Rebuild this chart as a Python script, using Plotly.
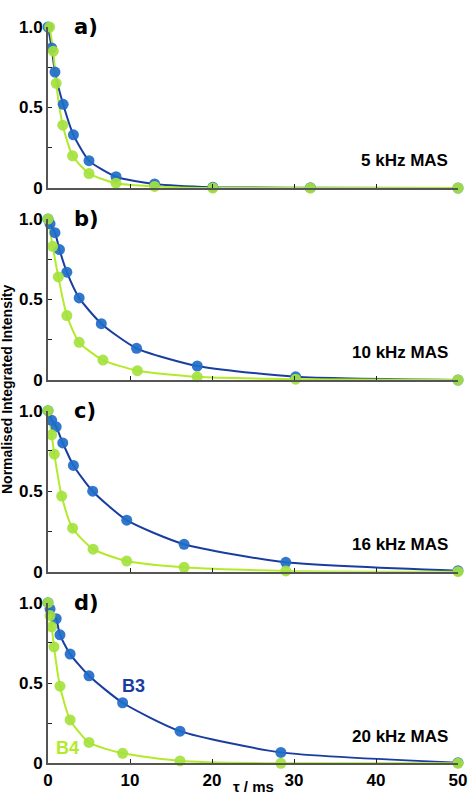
import plotly.graph_objects as go

# ---- data ----
panel_labels = ["a)", "b)", "c)", "d)"]
mas_labels = ["5 kHz MAS", "10 kHz MAS", "16 kHz MAS", "20 kHz MAS"]

tau_a = [0, 0.45, 0.85, 1.85, 3.1, 5.0, 8.3, 13.0, 20.1, 32.0, 50.0]
b3_a = [1.0, 0.87, 0.72, 0.52, 0.33, 0.17, 0.07, 0.025, 0.005, 0.002, 0.0]
tau_a_g = [0.2, 0.65, 1.0, 1.8, 3.0, 5.0, 8.3, 13.0, 20.1, 32.0, 50.0]
b4_a = [1.0, 0.85, 0.65, 0.39, 0.20, 0.09, 0.03, 0.01, 0.0, 0.0, 0.0]

tau_b = [0.0, 0.25, 0.85, 1.4, 2.3, 3.8, 6.5, 10.8, 18.2, 30.2, 50.0]
b3_b = [1.0, 0.97, 0.915, 0.81, 0.67, 0.51, 0.35, 0.197, 0.087, 0.02, 0.0]
tau_b_g = [0.0, 0.57, 1.26, 2.3, 3.8, 6.7, 10.9, 18.2, 30.2, 50.0]
b4_b = [1.0, 0.83, 0.64, 0.40, 0.234, 0.124, 0.058, 0.02, 0.005, 0.0]

tau_c = [0.0, 0.45, 1.0, 1.8, 3.1, 5.45, 9.6, 16.6, 29.0, 50.0]
b3_c = [1.0, 0.94, 0.90, 0.80, 0.66, 0.50, 0.32, 0.17, 0.058, 0.006]
tau_c_g = [0.0, 0.45, 0.77, 1.67, 3.0, 5.5, 9.6, 16.6, 29.0, 50.0]
b4_c = [1.0, 0.85, 0.73, 0.47, 0.27, 0.14, 0.066, 0.027, 0.005, 0.0]

tau_d = [0.0, 0.25, 1.0, 1.46, 2.7, 5.0, 9.1, 16.1, 28.4, 50.0]
b3_d = [1.0, 0.96, 0.90, 0.80, 0.68, 0.545, 0.377, 0.20, 0.068, 0.004]
tau_d_g = [0.0, 0.25, 0.45, 0.73, 1.46, 2.7, 5.0, 9.1, 16.1, 28.4, 50.0]
b4_d = [1.0, 0.92, 0.85, 0.725, 0.48, 0.27, 0.13, 0.062, 0.015, 0.0, 0.0]

x_ticks = [0, 10, 20, 30, 40, 50]
y_ticks = [0, 0.5, 1.0]
y_ticklabels = ["0", "0.5", "1.0"]

panels = [
    (tau_a, b3_a, tau_a_g, b4_a),
    (tau_b, b3_b, tau_b_g, b4_b),
    (tau_c, b3_c, tau_c_g, b4_c),
    (tau_d, b3_d, tau_d_g, b4_d),
]

# ---- styles ----
W, H = 470, 798
BLUE_M = "#1f6cc9"
BLUE_L = "#1a3da0"
GREEN_M = "#a4e23e"
GREEN_L = "#b3ea2a"
AXIS_C = "#555555"
FONT = "Liberation Sans"

# pixel rows of y=1 and y=0 for each panel
rows = [(27, 188), (219, 380), (410.7, 571.7), (602.7, 763.3)]

fig = go.Figure()
for i, (xb, yb, xg, yg) in enumerate(panels):
    xa = "x" if i == 0 else f"x{i+1}"
    ya = "y" if i == 0 else f"y{i+1}"
    for xs, ys, lc in ((xb, yb, BLUE_L), (xg, yg, GREEN_L)):
        fig.add_trace(go.Scatter(
            x=xs, y=ys, mode="lines", xaxis=xa, yaxis=ya,
            line=dict(color=lc, width=2, shape="spline", smoothing=0.6),
            showlegend=False, hoverinfo="skip", cliponaxis=False))
    for xs, ys, mc in ((xb, yb, BLUE_M), (xg, yg, GREEN_M)):
        fig.add_trace(go.Scatter(
            x=xs, y=ys, mode="markers", xaxis=xa, yaxis=ya,
            marker=dict(color=mc, size=11, opacity=0.92, line=dict(width=0)),
            showlegend=False, cliponaxis=False))

layout = dict(
    width=W, height=H,
    margin=dict(l=48, r=12, t=0, b=0, autoexpand=False),
    paper_bgcolor="white", plot_bgcolor="white",
    font=dict(family=FONT, color="black"),
)
for i, (top, bot) in enumerate(rows):
    xk = "xaxis" if i == 0 else f"xaxis{i+1}"
    yk = "yaxis" if i == 0 else f"yaxis{i+1}"
    ya = "y" if i == 0 else f"y{i+1}"
    xa = "x" if i == 0 else f"x{i+1}"
    last = i == 3
    layout[xk] = dict(
        domain=[0, 1], anchor=ya, range=[0, 50], automargin=False,
        tickvals=x_ticks, ticktext=[str(v) for v in x_ticks],
        showticklabels=last, ticks="inside", ticklen=4, tickcolor="#222",
        showline=True, linecolor=AXIS_C, linewidth=2, showgrid=False, zeroline=False,
        tickfont=dict(size=17, family=FONT, color="black", weight="bold"),
    )
    layout[yk] = dict(
        domain=[1 - bot / H, 1 - top / H], anchor=xa, range=[0, 1], automargin=False,
        tickvals=y_ticks, ticktext=y_ticklabels,
        ticks="inside", ticklen=4, tickcolor="#222",
        minor=dict(tickvals=[0.25, 0.75], ticks="inside", ticklen=4, tickcolor="#222"),
        showline=True, linecolor=AXIS_C, linewidth=2, showgrid=False, zeroline=False,
        tickfont=dict(size=17, family=FONT, color="black", weight="bold"),
    )
fig.update_layout(**layout)

annotations = []
for i in range(4):
    xa = "x" if i == 0 else f"x{i+1}"
    ya = "y" if i == 0 else f"y{i+1}"
    annotations.append(dict(
        x=2.9, y=1.0, xref=xa, yref=ya, text=f"<b>{panel_labels[i]}</b>",
        showarrow=False, xanchor="left", yanchor="middle",
        font=dict(size=21, family="DejaVu Sans", color="black")))
    annotations.append(dict(
        x=49.0, y=0.17, xref=xa, yref=ya, text=f"<b>{mas_labels[i]}</b>",
        showarrow=False, xanchor="right", yanchor="middle",
        font=dict(size=17, family=FONT, color="black")))
annotations.append(dict(
    x=10.4, y=0.48, xref="x4", yref="y4", text="<b>B3</b>", showarrow=False,
    font=dict(size=18, family=FONT, color=BLUE_L)))
annotations.append(dict(
    x=2.4, y=0.095, xref="x4", yref="y4", text="<b>B4</b>", showarrow=False,
    font=dict(size=18, family=FONT, color=GREEN_L)))
annotations.append(dict(
    x=(7 - 48) / (W - 48 - 12), y=1 - 390 / H, xref="paper", yref="paper",
    text="<b>Normalised Integrated Intensity</b>", showarrow=False, textangle=-90,
    font=dict(size=14, family=FONT, color="black"),
    xanchor="center", yanchor="middle"))
annotations.append(dict(
    x=0.5, y=1 - 797 / H, xref="paper", yref="paper",
    text="<b>\u03c4 / ms</b>", showarrow=False, xanchor="center", yanchor="bottom",
    font=dict(size=15, family=FONT, color="black")))
fig.update_layout(annotations=annotations)

fig.write_html("out.html")
